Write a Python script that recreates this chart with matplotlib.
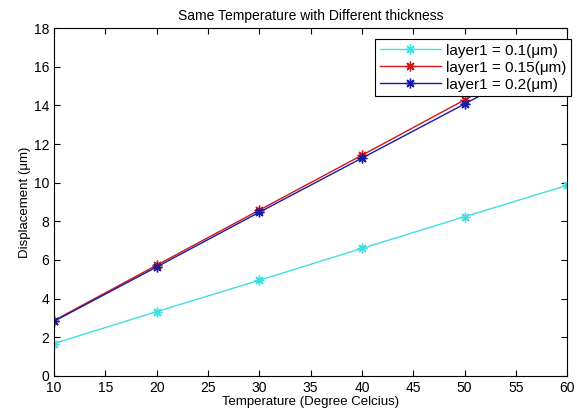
import matplotlib
matplotlib.use("Agg")
import matplotlib.pyplot as plt

plt.rcParams['font.family'] = ['Liberation Sans', 'DejaVu Sans']

# temperature points and displacement for each layer thickness
temperature = [10, 20, 30, 40, 50, 60]
disp_01 = [1.68, 3.33, 4.95, 6.60, 8.24, 9.86]
disp_015 = [2.87, 5.73, 8.58, 11.42, 14.28, 17.12]
disp_02 = [2.83, 5.64, 8.47, 11.27, 14.07, 16.88]
labels = ['layer1 = 0.1(\u03bcm)', 'layer1 = 0.15(\u03bcm)', 'layer1 = 0.2(\u03bcm)']

fig = plt.figure(figsize=(5.77, 4.15), dpi=100)
ax = fig.add_axes([0.0936, 0.094, 0.8894, 0.8385])

star = (8, 2, 0)  # asterisk marker
ax.plot(temperature, disp_01, color='#40e0e0', marker=star, markersize=7, mew=1, lw=1, label=labels[0])
ax.plot(temperature, disp_015, color='#d01818', marker=star, markersize=7, mew=1, lw=1, label=labels[1])
ax.plot(temperature, disp_02, color='#1a1aa8', marker=star, markersize=7, mew=1, lw=1, label=labels[2])

ax.set_xlim(10, 60)
ax.set_ylim(0, 18)
ax.set_xticks(range(10, 61, 5))
ax.set_yticks(range(0, 19, 2))
ax.tick_params(direction='in', top=True, right=True, labelsize=10, length=4)
for s in ax.spines.values():
    s.set_linewidth(0.8)

ax.set_title('Same Temperature with Different thickness', fontsize=10, pad=6)
ax.set_xlabel('Temperature (Degree Celcius)', fontsize=9.5, labelpad=1)
ax.set_ylabel('Displacement (\u03bcm)', fontsize=9.5, labelpad=2)

leg = ax.legend(loc='upper right', bbox_to_anchor=(571 / 577, 1 - 39 / 415),
                bbox_transform=fig.transFigure, fontsize=11, fancybox=False,
                framealpha=1, edgecolor='black', borderpad=0.3, labelspacing=0.2,
                handlelength=4.0, handletextpad=0.35, borderaxespad=0)
leg.get_frame().set_linewidth(0.8)

fig.savefig('out.png', dpi=100)
